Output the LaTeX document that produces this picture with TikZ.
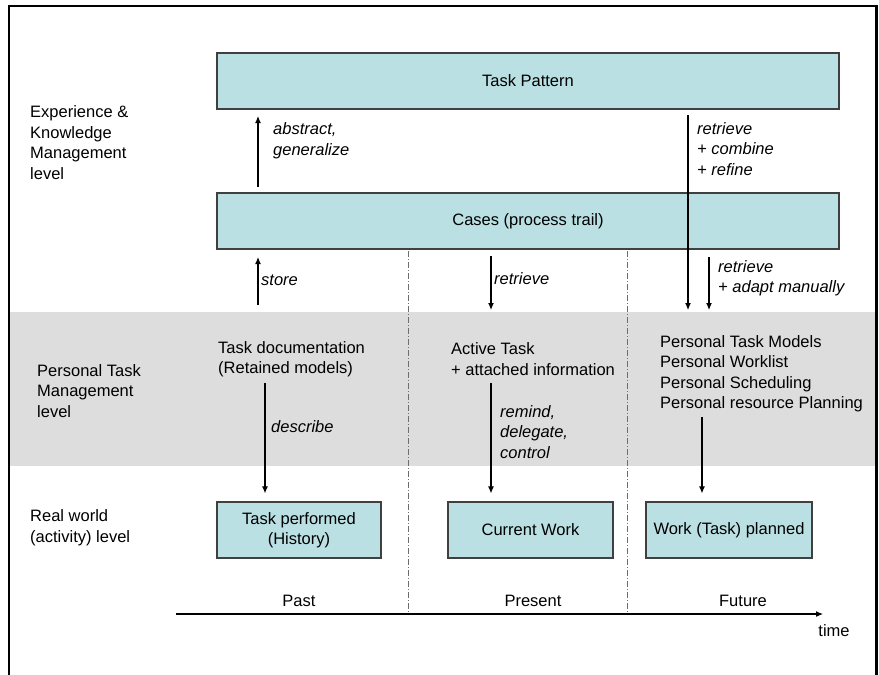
\documentclass[tikz,border=0pt]{standalone}
\usepackage{fontspec}
\setmainfont{Liberation Sans}
\usetikzlibrary{arrows.meta}
\definecolor{boxfill}{RGB}{186,224,227}
\definecolor{bandgray}{RGB}{221,221,221}
\definecolor{boxline}{RGB}{64,64,64}
\definecolor{sepgray}{RGB}{110,110,110}

\begin{document}
\begin{tikzpicture}[x=1pt,y=-1pt,
  every node/.style={font=\fontsize{16.5}{20.5}\selectfont, inner sep=0pt},
  blockbox/.style={draw=boxline, line width=1.2pt, fill=boxfill, align=center, minimum height=56pt},
  txt/.style={align=left, anchor=west},
  lbl/.style={align=left, anchor=west, font=\fontsize{16.5}{20.5}\selectfont\itshape},
  arr/.style={line width=1.1pt, -{Latex[length=7pt,width=6pt]}},
  sep/.style={draw=sepgray, line width=0.8pt, dash pattern=on 6pt off 2pt on 1pt off 2pt},
  frameline/.style={line width=2.5pt, draw=black, line join=miter}]

\useasboundingbox (0,0) rectangle (879,675);

% personal task management band
\fill[bandgray] (10,312) rectangle (876,466);

% outer frame
\draw[frameline] (9,676) -- (9,6) -- (876.5,6) -- (876.5,676);

% time-period separators
\coordinate (s1top) at (408,251);
\coordinate (s1bot) at (408,614);
\coordinate (s2top) at (627,251);
\coordinate (s2bot) at (627,614);
\draw[sep] (s1top) -- (s1bot);
\draw[sep] (s2top) -- (s2bot);

% experience & knowledge management level
\node[blockbox, minimum width=622pt] (pattern) at (528,81) {Task Pattern};
\node[blockbox, minimum width=622pt] (cases) at (528,221) {Cases (process trail)};

% level captions
\node[txt] (lvlexp) at (30,142.5) {Experience \&\\Knowledge\\Management\\level};
\node[txt] (lvlpers) at (37,391) {Personal Task\\Management\\level};
\node[txt] (lvlreal) at (30,527.5) {Real world\\(activity) level};

% personal task management level
\node[txt] (taskdoc) at (218,359) {Task documentation\\(Retained models)};
\node[txt] (active) at (451,359) {Active Task\\+ attached information};
\node[txt] (perslist) at (660,373.5) {Personal Task Models\\Personal Worklist\\Personal Scheduling\\Personal resource Planning};

% real world level
\node[blockbox, minimum width=164pt] (performed) at (299,530) {Task performed\\(History)};
\node[blockbox, minimum width=165pt] (current) at (530.5,530) {Current Work};
\node[blockbox, minimum width=166pt] (planned) at (729,530) {Work (Task) planned};

% arrows between levels
\coordinate (absS) at (258,187);
\coordinate (absE) at (258,116);
\draw[arr] (absS) -- (absE);
\node[lbl] (abslbl) at (273,140.5) {abstract,\\generalize};

\coordinate (stoS) at (258,305);
\coordinate (stoE) at (258,257);
\draw[arr] (stoS) -- (stoE);
\node[lbl] (stolbl) at (261,280) {store};

\coordinate (retS) at (491,256);
\coordinate (retE) at (491,310);
\draw[arr] (retS) -- (retE);
\node[lbl] (retlbl) at (494,279) {retrieve};

\coordinate (combS) at (688,115);
\coordinate (combE) at (688,310);
\draw[arr] (combS) -- (combE);
\node[lbl] (comblbl) at (697,149) {retrieve\\+ combine\\+ refine};

\coordinate (adaS) at (709,257);
\coordinate (adaE) at (709,310);
\draw[arr] (adaS) -- (adaE);
\node[lbl] (adalbl) at (718,278) {retrieve\\+ adapt manually};

\coordinate (desS) at (265,383);
\draw[arr, shorten >=8pt] (desS) -- (desS |- performed.north);
\node[lbl] (deslbl) at (271,427) {describe};

\coordinate (remS) at (491,383);
\draw[arr, shorten >=8pt] (remS) -- (remS |- current.north);
\node[lbl] (remlbl) at (500,432) {remind,\\delegate,\\control};

\coordinate (plaS) at (702,417);
\draw[arr, shorten >=8pt] (plaS) -- (plaS |- planned.north);

% time axis
\coordinate (axS) at (176,614);
\coordinate (axE) at (823,614);
\draw[arr] (axS) -- (axE);
\node (past) at (299,601) {Past};
\node (present) at (533,601) {Present};
\node (future) at (743,601) {Future};
\node (time) at (834,631) {time};
\end{tikzpicture}
\end{document}
